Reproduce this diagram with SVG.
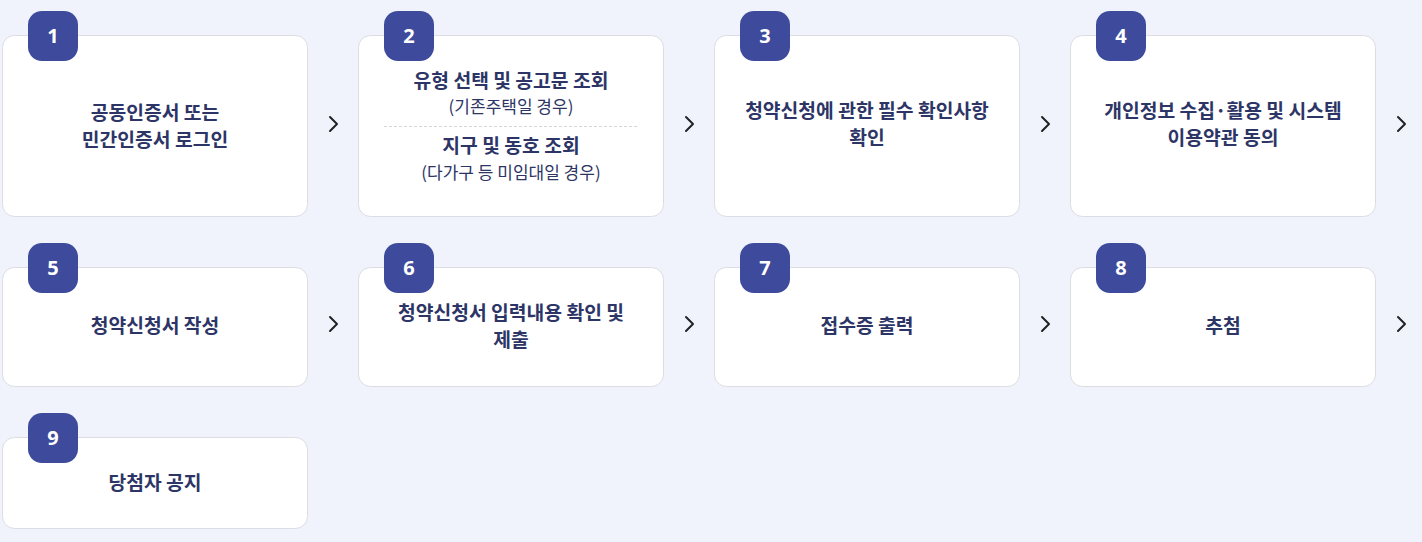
<svg xmlns="http://www.w3.org/2000/svg" width="1422" height="542" viewBox="0 0 1422 542">
<style>
.card{fill:#ffffff;stroke:#dcdde3;stroke-width:1}
.badge{fill:#3e4a9c}
.num{fill:#ffffff;font-family:"Noto Sans","Noto Sans CJK KR",sans-serif;font-weight:700;font-size:20px;text-anchor:middle}
.t{fill:#2d3566;font-family:"Noto Sans CJK KR",sans-serif;font-weight:700;font-size:19.3px;text-anchor:middle}
.s{fill:#2d3566;font-family:"Noto Sans CJK KR",sans-serif;font-weight:400;font-size:17px;text-anchor:middle}
.chev{fill:none;stroke:#222222;stroke-width:2;stroke-linecap:round;stroke-linejoin:round}
</style>
<rect width="1422" height="542" fill="#f0f3fc"/>
<g id="node1">
<rect class="card" x="2.5" y="35.5" width="305" height="181" rx="12"/>
<rect class="badge" x="28" y="11" width="50" height="50" rx="14"/>
<text class="num" x="53" y="43">1</text>
<text class="t" x="155" y="120">공동인증서 또는</text>
<text class="t" x="155" y="147">민간인증서 로그인</text>
</g>
<g id="node2">
<rect class="card" x="358.5" y="35.5" width="305" height="181" rx="12"/>
<rect class="badge" x="384" y="11" width="50" height="50" rx="14"/>
<text class="num" x="409" y="43">2</text>
<text class="t" x="511" y="88">유형 선택 및 공고문 조회</text>
<text class="s" x="511" y="113">(기존주택일 경우)</text>
<line x1="384" y1="126.5" x2="638" y2="126.5" stroke="#d4d6dc" stroke-width="1" stroke-dasharray="3,2"/>
<text class="t" x="511" y="153">지구 및 동호 조회</text>
<text class="s" x="511" y="179">(다가구 등 미임대일 경우)</text>
</g>
<g id="node3">
<rect class="card" x="714.5" y="35.5" width="305" height="181" rx="12"/>
<rect class="badge" x="740" y="11" width="50" height="50" rx="14"/>
<text class="num" x="765" y="43">3</text>
<text class="t" x="867" y="118">청약신청에 관한 필수 확인사항</text>
<text class="t" x="867" y="145">확인</text>
</g>
<g id="node4">
<rect class="card" x="1070.5" y="35.5" width="305" height="181" rx="12"/>
<rect class="badge" x="1096" y="11" width="50" height="50" rx="14"/>
<text class="num" x="1121" y="43">4</text>
<text class="t" x="1223" y="118">개인정보 수집·활용 및 시스템</text>
<text class="t" x="1223" y="145">이용약관 동의</text>
</g>
<g id="node5">
<rect class="card" x="2.5" y="267.5" width="305" height="119" rx="12"/>
<rect class="badge" x="28" y="243" width="50" height="50" rx="14"/>
<text class="num" x="53" y="275">5</text>
<text class="t" x="155" y="333">청약신청서 작성</text>
</g>
<g id="node6">
<rect class="card" x="358.5" y="267.5" width="305" height="119" rx="12"/>
<rect class="badge" x="384" y="243" width="50" height="50" rx="14"/>
<text class="num" x="409" y="275">6</text>
<text class="t" x="511" y="320">청약신청서 입력내용 확인 및</text>
<text class="t" x="511" y="347">제출</text>
</g>
<g id="node7">
<rect class="card" x="714.5" y="267.5" width="305" height="119" rx="12"/>
<rect class="badge" x="740" y="243" width="50" height="50" rx="14"/>
<text class="num" x="765" y="275">7</text>
<text class="t" x="867" y="333">접수증 출력</text>
</g>
<g id="node8">
<rect class="card" x="1070.5" y="267.5" width="305" height="119" rx="12"/>
<rect class="badge" x="1096" y="243" width="50" height="50" rx="14"/>
<text class="num" x="1121" y="275">8</text>
<text class="t" x="1223" y="333">추첨</text>
</g>
<g id="node9">
<rect class="card" x="2.5" y="437.5" width="305" height="91" rx="12"/>
<rect class="badge" x="28" y="413" width="50" height="50" rx="14"/>
<text class="num" x="53" y="445">9</text>
<text class="t" x="155" y="490">당첨자 공지</text>
</g>
<g id="connectors">
<path class="chev" d="M330,117 L337,124 L330,131"/>
<path class="chev" d="M686,117 L693,124 L686,131"/>
<path class="chev" d="M1042,117 L1049,124 L1042,131"/>
<path class="chev" d="M1398,117 L1405,124 L1398,131"/>
<path class="chev" d="M330,317 L337,324 L330,331"/>
<path class="chev" d="M686,317 L693,324 L686,331"/>
<path class="chev" d="M1042,317 L1049,324 L1042,331"/>
<path class="chev" d="M1398,317 L1405,324 L1398,331"/>
</g>
</svg>
